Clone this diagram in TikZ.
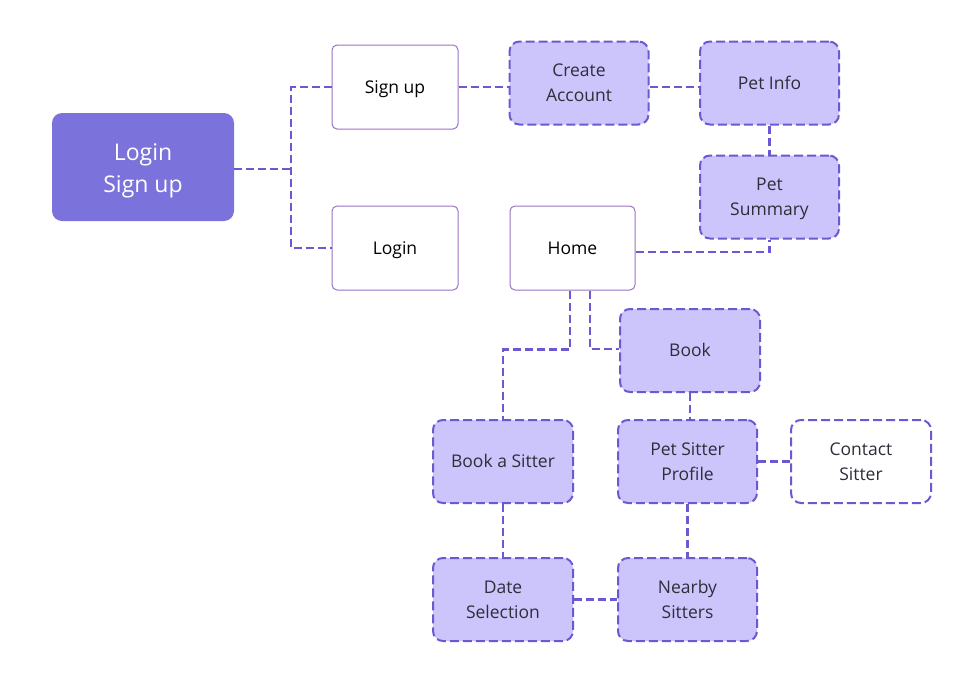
\documentclass[tikz,border=0pt]{standalone}
\usepackage{fontspec}
\setmainfont{Open Sans}
\definecolor{mainfill}{HTML}{7B73DB}
\definecolor{lav}{HTML}{CCC5FB}
\definecolor{dashc}{HTML}{6A5AD2}
\definecolor{thinb}{HTML}{9A72C4}
\definecolor{txt}{HTML}{2E2E3A}
\newcommand\mytopstrut[1]{\rule{0pt}{\dimexpr0.7\baselineskip+#1\relax}}
\newcommand\ts{\mytopstrut{2pt}}
\newcommand\tsm{\mytopstrut{6pt}}
\begin{document}
\begin{tikzpicture}[x=1pt,y=-1pt,
  every node/.style={align=center, inner sep=0pt},
  mainbox/.style={rectangle, rounded corners=10pt, fill=mainfill, text=white,
    minimum width=182pt, minimum height=108pt, font=\fontsize{23}{32}\selectfont},
  whitebox/.style={rectangle, rounded corners=5pt, draw=thinb, line width=1pt, fill=white, text=black,
    minimum width=126pt, minimum height=84pt, font=\fontsize{17.5}{25}\selectfont},
  lavbox/.style={rectangle, rounded corners=10pt, draw=dashc, line width=2pt, dash pattern=on 9pt off 4pt,
    fill=lav, text=txt, minimum width=139pt, minimum height=83pt, font=\fontsize{17.5}{25}\selectfont},
  dashbox/.style={lavbox, fill=white},
  link/.style={draw=dashc, line width=2.7pt, dash pattern=on 8pt off 4pt}
]
\useasboundingbox (0,0) rectangle (968,680);
\node[mainbox] (main) at (143,167) {\tsm Login\\Sign up\strut};
\node[whitebox] (signup) at (395,87) {\ts Sign up\strut};
\node[whitebox] (login) at (395,248) {\ts Login\strut};
\node[lavbox] (create) at (579,83) {\ts Create\\Account\strut};
\node[lavbox] (petinfo) at (769.5,83) {\ts Pet Info\strut};
\node[lavbox] (petsum) at (769.5,197) {\ts Pet\\Summary\strut};
\node[whitebox, minimum width=125pt] (home) at (572.5,248) {\ts Home\strut};
\node[lavbox, minimum width=140pt] (book) at (690,350.5) {\ts Book\strut};
\node[lavbox, minimum width=140pt] (bas) at (503,461.5) {\ts Book a Sitter\strut};
\node[lavbox] (psp) at (687.5,461.5) {\ts Pet Sitter\\Profile\strut};
\node[dashbox, minimum width=140pt] (contact) at (861,461.5) {\ts Contact\\Sitter\strut};
\node[lavbox, minimum width=140pt] (date) at (503,599.5) {\ts Date\\Selection\strut};
\node[lavbox] (nearby) at (687.5,599.5) {\ts Nearby\\Sitters\strut};
\coordinate (j1) at (291,169);
\path[link] (main.east |- j1) -- (j1);
\path[link] (signup.west) -| (j1) |- (login.west);
\path[link] (signup.east) -- (signup.east -| create.west);
\path[link] (signup.east -| create.east) -- (signup.east -| petinfo.west);
\path[link] (petinfo.south) -- (petsum.north);
\path[link] ([yshift=-4pt]home.east) -| (petsum.south);
\path[link] ([xshift=-2.5pt]home.south) -- ++(0,59) -| (bas.north);
\path[link] ([xshift=17.5pt]home.south) |- ([yshift=1.5pt]book.west);
\path[link] (book.south) -- (book.south |- psp.north);
\path[link] (psp.east) -- (contact.west);
\path[link] (psp.south) -- (psp.south |- nearby.north);
\path[link] (bas.south) -- (date.north);
\path[link] (date.east) -- (nearby.west);
\end{tikzpicture}
\end{document}
